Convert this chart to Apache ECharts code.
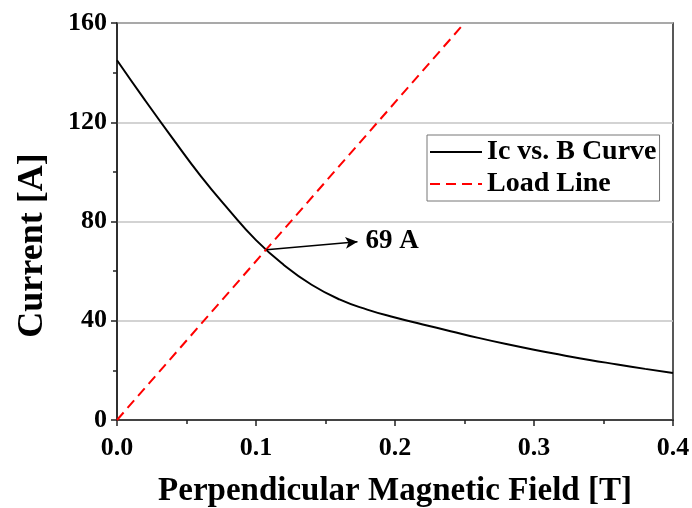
<!DOCTYPE html>
<html>
<head>
<meta charset="utf-8">
<script src="https://cdn.jsdelivr.net/npm/echarts@6/dist/echarts.min.js"></script>
<style>
  html, body {margin: 0; padding: 0; background: #fff;}
  #chart {width: 692px; height: 508px;}
</style>
</head>
<body>
<div id="chart"></div>
<script>
// Ic vs B curve
const fieldB = [0, 0.02, 0.04, 0.06, 0.08, 0.10, 0.12, 0.14, 0.16, 0.18, 0.20,
                0.22, 0.24, 0.26, 0.28, 0.30, 0.32, 0.34, 0.36, 0.38, 0.40];
const icValues = [145, 129, 113.5, 98.5, 85, 72.5, 62.5, 54.5, 48.6, 44.5, 41.3,
                  38.5, 35.8, 33.1, 30.6, 28.3, 26.2, 24.2, 22.4, 20.6, 18.9];
// load line end points
const loadB = [0, 0.25];
const loadI = [0, 160];
// annotation: operating point and arrow tip
const opPoint = [0.1075, 68.6];
const arrowTip = [0.173, 71.8];
const opLabel = '69 A';

const serif = '"Liberation Serif", "DejaVu Serif", serif';

const myChart = echarts.init(document.getElementById('chart'));

let option = {
    backgroundColor: '#fff',
    animation: false,
    grid: {
        left: 117,
        right: 19,
        top: 23,
        bottom: 88,
        outerBoundsMode: 'none',
        show: true,
        borderColor: '#222',
        borderWidth: 1.5,
    },
    legend: {
        left: 427,
        top: 135,
        orient: 'vertical',
        itemWidth: 52,
        itemHeight: 14,
        itemGap: 4,
        padding: [3, 3, 3, 2],
        borderColor: '#777',
        borderWidth: 1,
        itemStyle: {opacity: 0},
        textStyle: {
            fontFamily: serif,
            fontWeight: 'bold',
            fontSize: 28,
            color: '#000',
        },
        data: ['Ic vs. B Curve', 'Load Line'],
    },
    xAxis: {
        type: 'value',
        min: 0,
        max: 0.4,
        interval: 0.1,
        name: 'Perpendicular Magnetic Field [T]',
        nameLocation: 'middle',
        nameGap: 55,
        nameTextStyle: {
            fontFamily: serif,
            fontWeight: 'bold',
            fontSize: 33,
            color: '#000',
        },
        axisLine: {lineStyle: {color: '#222', width: 1.5}},
        axisTick: {show: true, inside: false, length: 6, lineStyle: {color: '#222', width: 1.5}},
        minorTick: {show: true, splitNumber: 2, length: 4, lineStyle: {color: '#222', width: 1.5}},
        splitLine: {show: false},
        axisLabel: {
            margin: 15,
            fontFamily: serif,
            fontWeight: 'bold',
            fontSize: 26,
            color: '#000',
            formatter: v => v.toFixed(1),
        },
    },
    yAxis: {
        type: 'value',
        min: 0,
        max: 160,
        interval: 40,
        name: 'Current [A]',
        nameLocation: 'middle',
        nameGap: 66,
        nameTextStyle: {
            fontFamily: serif,
            fontWeight: 'bold',
            fontSize: 36,
            color: '#000',
            padding: [0, 48, 0, 0],
        },
        axisLine: {show: true, lineStyle: {color: '#222', width: 1.5}},
        axisTick: {show: true, inside: false, length: 6, lineStyle: {color: '#222', width: 1.5}},
        minorTick: {show: true, splitNumber: 2, length: 4, lineStyle: {color: '#222', width: 1.5}},
        splitLine: {show: true, lineStyle: {color: '#c4c4c4', width: 1.5}},
        axisLabel: {
            margin: 10,
            fontFamily: serif,
            fontWeight: 'bold',
            fontSize: 26,
            color: '#000',
        },
    },
    series: [
        {
            name: 'Ic vs. B Curve',
            type: 'line',
            symbol: 'none',
            smooth: 0.5,
            lineStyle: {color: '#000', width: 2},
            itemStyle: {color: '#000'},
            data: fieldB.map((b, i) => [b, icValues[i]]),
            markLine: {
                silent: true,
                symbol: ['none', 'arrow'],
                symbolSize: [9, 12],
                lineStyle: {color: '#000', width: 1.5, type: 'solid'},
                label: {
                    show: true,
                    position: 'end',
                    distance: 8,
                    formatter: opLabel,
                    fontFamily: serif,
                    fontWeight: 'bold',
                    fontSize: 27,
                    color: '#000',
                },
                data: [[{coord: opPoint}, {coord: arrowTip}]],
            },
        },
        {
            name: 'Load Line',
            type: 'line',
            symbol: 'none',
            lineStyle: {color: '#ff0000', width: 2, type: [10, 6]},
            itemStyle: {color: '#ff0000'},
            data: loadB.map((b, i) => [b, loadI[i]]),
        },
    ],
};

option && myChart.setOption(option);
</script>
</body>
</html>
